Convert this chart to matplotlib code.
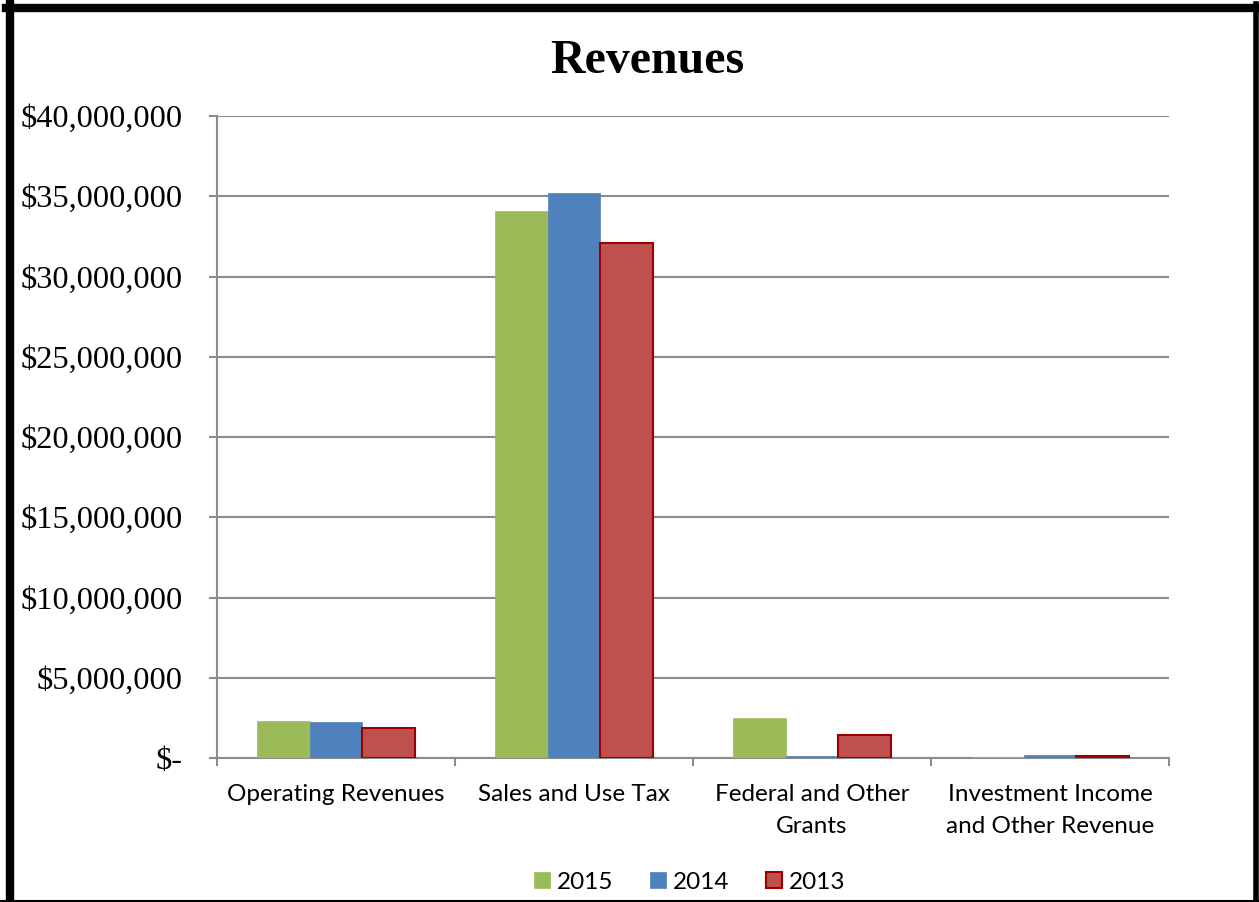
import numpy as np
import matplotlib.pyplot as plt
from matplotlib.lines import Line2D
from matplotlib.ticker import FuncFormatter

categories = ["Operating Revenues", "Sales and Use Tax", "Federal and Other\nGrants",
              "Investment Income\nand Other Revenue"]
years = ["2015", "2014", "2013"]
rev2015 = [2300000, 34100000, 2500000, 60000]
rev2014 = [2230000, 35200000, 150000, 200000]
rev2013 = [1900000, 32100000, 1450000, 100000]

colors = ["#9BBB59", "#4F81BD", "#C0504D"]
edges = ["#9BBB59", "#4F81BD", "#9B0000"]

fig = plt.figure(figsize=(12.59, 9.02), dpi=100)
ax = fig.add_axes([0.1724, 0.1596, 0.7561, 0.7118])

x = np.arange(len(categories))
w = 0.222
for i, (vals, lab) in enumerate(zip([rev2015, rev2014, rev2013], years)):
    ax.bar(x + (i - 1) * w, vals, width=w, color=colors[i], edgecolor=edges[i],
           linewidth=1.5 if i == 2 else 0.5, label=lab, zorder=3)

ax.set_xlim(-0.5, 3.5)
ax.set_ylim(0, 40000000)
ax.set_yticks(np.arange(0, 40000001, 5000000))


def money(v, pos):
    if v == 0:
        return "$-"
    return "${:,.0f}".format(v)


ax.yaxis.set_major_formatter(FuncFormatter(money))
ax.grid(axis="y", color="#8c8c8c", linewidth=1.5, zorder=0)
for s in ["top", "right"]:
    ax.spines[s].set_visible(False)
for s in ["left", "bottom"]:
    ax.spines[s].set_color("#8c8c8c")
    ax.spines[s].set_linewidth(1.5)

ax.tick_params(axis="y", length=6, width=1.5, color="#8c8c8c", pad=19, labelsize=23.3)
for t in ax.get_yticklabels():
    t.set_family("Liberation Serif")

ax.set_xticks(x)
ax.set_xticklabels(categories, family="Lato", fontsize=17.5, linespacing=1.65)
ax.set_xticks(np.arange(-0.5, 3.6, 1), minor=True)
ax.tick_params(axis="x", which="major", length=0, pad=19)
ax.tick_params(axis="x", which="minor", length=6, width=1.5, color="#8c8c8c")

fig.text(0.514, 0.932, "Revenues", ha="center", va="center", family="Liberation Serif",
         fontsize=34.5, fontweight="bold")

leg = fig.legend(loc="center", bbox_to_anchor=(0.548, 0.022), ncol=3, frameon=False,
                 prop={"family": "Lato", "size": 17.5}, handlelength=0.65, handleheight=0.65,
                 handletextpad=0.3, columnspacing=1.5)

# chart border
fig.add_artist(Line2D([10 / 1259, 10 / 1259], [0, 1 - 4 / 902], transform=fig.transFigure,
                      color="black", linewidth=6))
fig.add_artist(Line2D([6 / 1259, 1256 / 1259], [1 - 8 / 902, 1 - 8 / 902],
                      transform=fig.transFigure, color="black", linewidth=6))
fig.add_artist(Line2D([1256 / 1259, 1256 / 1259], [0, 1 - 4 / 902], transform=fig.transFigure,
                      color="black", linewidth=4))
fig.add_artist(Line2D([0, 1], [1.5 / 902, 1.5 / 902], transform=fig.transFigure,
                      color="black", linewidth=1.5))

fig.savefig("out.png", dpi=100)
